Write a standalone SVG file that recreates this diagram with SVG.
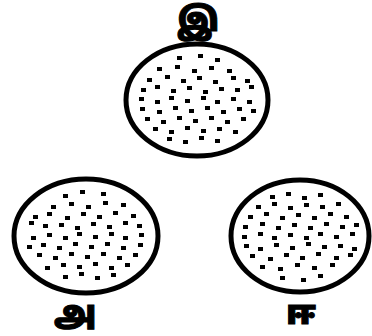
<svg xmlns="http://www.w3.org/2000/svg" xmlns:xlink="http://www.w3.org/1999/xlink" width="372" height="336" viewBox="0 0 372 336">
<style>
.ring{fill:#fff;stroke:#000;stroke-width:5}
.dots{fill:#000}
.lbl{font-family:"Noto Sans Tamil","Noto Sans","Lohit Tamil","Latha",sans-serif;font-weight:900;font-size:33px;fill:#000;stroke:#000;stroke-width:1;text-anchor:middle}
</style>
<defs>
<path id="dotset" class="dots" d="M-20 -44h5v4h-5z M1 -46h5v4h-5z M18 -42h5v4h-5z
M-40 -33h5v4h-5z M-22 -35h5v4h-5z M-5 -31h5v4h-5z M12 -34h5v4h-5z M30 -31h5v4h-5z
M-50 -22h5v4h-5z M-32 -25h5v4h-5z M-16 -21h5v4h-5z M0 -24h5v4h-5z M16 -20h5v4h-5z M34 -24h5v4h-5z M48 -21h5v4h-5z
M-56 -12h5v4h-5z M-42 -15h5v4h-5z M-26 -11h5v4h-5z M-10 -14h5v4h-5z M6 -10h5v4h-5z M22 -13h5v4h-5z M38 -12h5v4h-5z M52 -15h5v4h-5z
M-58 -3h5v4h-5z M-42 0h5v4h-5z M-28 -4h5v4h-5z M-12 -1h5v4h-5z M4 -4h5v4h-5z M18 0h5v4h-5z M34 -3h5v4h-5z M50 0h5v4h-5z
M-57 7h5v4h-5z M-40 10h5v4h-5z M-24 6h5v4h-5z M-8 9h5v4h-5z M8 6h5v4h-5z M24 10h5v4h-5z M40 7h5v4h-5z M54 9h5v4h-5z
M-52 17h5v4h-5z M-36 20h5v4h-5z M-20 16h5v4h-5z M-4 19h5v4h-5z M12 16h5v4h-5z M28 20h5v4h-5z M44 17h5v4h-5z
M-44 27h5v4h-5z M-28 30h5v4h-5z M-12 26h5v4h-5z M4 29h5v4h-5z M20 27h5v4h-5z M36 30h5v4h-5z
M-30 37h5v4h-5z M-14 40h5v4h-5z M2 36h5v4h-5z M18 39h5v4h-5z"/>
</defs>
<g id="node-top">
<ellipse class="ring" cx="197" cy="100" rx="71" ry="56"/>
<use xlink:href="#dotset" href="#dotset" transform="translate(197 100)"/>
<text class="lbl" x="198" y="31">இ</text>
</g>
<g id="node-left">
<ellipse class="ring" cx="86" cy="236" rx="72" ry="57"/>
<use xlink:href="#dotset" href="#dotset" transform="translate(86 236) scale(-1 1)"/>
<text class="lbl" x="75" y="324">அ</text>
</g>
<g id="node-right">
<ellipse class="ring" cx="300" cy="236" rx="69" ry="56"/>
<use xlink:href="#dotset" href="#dotset" transform="translate(300 236) scale(1 -1)"/>
<text class="lbl" x="301" y="324">ஈ</text>
</g>
<g id="connectors"></g>
</svg>
